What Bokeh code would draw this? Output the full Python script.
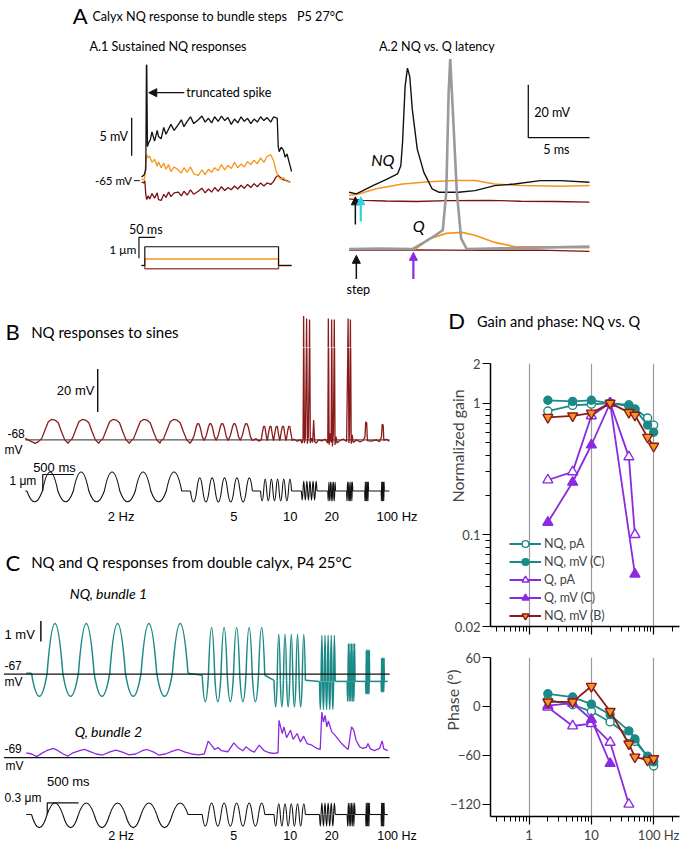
import math
from bokeh.plotting import figure
from bokeh.models import (Range1d, Label, Arrow, NormalHead, FixedTicker,
                          NumeralTickFormatter, CustomJSTickFormatter, Legend, LegendItem)
from bokeh.layouts import column, row
from bokeh.embed import file_html
from bokeh.resources import INLINE

# ======================= DATA =======================
# ---- A.1 sustained NQ responses (time ms, membrane potential mV) ----
a1_t_black = [-10, -3, 0, 3, 5, 6, 8, 12, 17, 22, 30, 38, 42, 50, 58, 65, 73, 80, 90, 103,
              112, 120, 130, 140, 150, 164, 175, 185, 195, 205, 214, 225, 235, 245, 255, 265,
              275, 285, 295, 305, 315, 325, 335, 345, 355, 365, 375, 386, 395, 406, 409, 412,
              418, 425, 430, 436, 442, 450]
a1_v_black = [-64.5, -64.3, -64.0, -63.5, -49.8, -49.8, -60.5, -60.0, -59.6, -58.6, -59.8, -58.4,
              -59.2, -59.5, -58.0, -58.9, -58.2, -57.6, -58.4, -57.6, -57.0, -57.9, -57.2, -56.6,
              -57.5, -57.0, -56.5, -57.3, -56.8, -57.4, -56.6, -57.2, -56.5, -57.1, -56.7, -57.6,
              -56.9, -57.4, -56.6, -57.2, -56.8, -57.5, -56.9, -57.3, -56.6, -57.1, -56.7, -57.3,
              -56.6, -56.8, -60.5, -61.2, -60.6, -61.0, -61.9, -61.5, -62.5, -63.8]
a1_t = [-10, -3, 0, 3, 6, 10, 15, 22, 30, 38, 42, 50, 58, 65, 73, 80, 90, 103, 112, 120,
        130, 140, 150, 164, 175, 185, 195, 205, 214, 225, 235, 245, 255, 265, 275, 285, 295,
        305, 315, 325, 335, 345, 355, 365, 375, 386, 395, 401, 408, 416, 425, 435, 446]
a1_v_orange = [-64.8, -64.9, -64.6, -62.5, -61.6, -62.0, -61.8, -62.6, -62.2, -63.1, -62.5, -63.3,
               -62.7, -63.5, -62.9, -63.8, -63.2, -63.6, -64.0, -63.3, -63.9, -63.2, -64.1, -64.3,
               -63.6, -64.2, -63.5, -63.9, -63.3, -63.7, -62.9, -63.6, -63.0, -63.4, -62.6, -63.3,
               -62.8, -63.2, -62.5, -62.9, -62.3, -62.8, -62.0, -62.6, -61.8, -61.6, -62.4, -63.5,
               -64.4, -64.8, -64.6, -65.1, -65.2]
a1_v_red = [-65.2, -65.3, -65.0, -66.8, -67.5, -67.0, -67.4, -66.7, -67.3, -66.6, -67.5, -67.6,
            -66.8, -67.2, -66.5, -67.1, -66.6, -66.5, -67.0, -66.4, -66.9, -66.2, -66.8, -66.4,
            -66.0, -66.6, -66.1, -66.5, -65.9, -66.4, -65.8, -66.3, -65.9, -66.2, -65.7, -66.1,
            -65.6, -66.0, -65.5, -65.9, -65.4, -65.8, -65.3, -65.7, -65.3, -65.5, -65.1, -64.6,
            -64.3, -64.6, -64.9, -65.0, -65.2]
a1_step_t = [-10, 0, 0, 410, 410, 450]          # ms
a1_step_black = [0, 0, 0.9, 0.9, 0, 0]           # um
a1_step_orange = [0, 0, 0.31, 0.31, 0, 0]
a1_step_red = [0, 0, -0.16, -0.16, 0, 0]

# ---- A.2 NQ vs Q latency (time ms, mV re. rest) ----
a2_t_black = [-0.51, 0.08, 0.62, 1.43, 2.5, 3.44, 3.71, 3.85, 4.06, 4.25, 4.44, 4.65, 5.05,
              5.59, 6.26, 6.8, 8.41, 9.76, 11.37, 12.98, 15.1, 16.75, 19.1]
a2_v_black = [0.6, 0.0, 1.2, 3.1, 5.4, 7.5, 10.6, 19.4, 40.6, 47.5, 44.3, 31.8, 16.9, 8.1, 1.9,
              0.6, 0.6, 1.2, 3.1, 3.7, 5.0, 5.0, 4.4]
a2_t_orange_nq = [-0.51, 0.35, 1.69, 3.85, 5.99, 8.15, 9.76, 11.37, 13.52, 16.75, 19.11]
a2_v_orange_nq = [-0.6, 0.0, 1.9, 3.7, 4.6, 5.0, 5.0, 3.7, 3.1, 2.9, 3.1]
a2_t_red_nq = [-0.51, 0.62, 2.5, 5.0, 7.5, 10.9, 13.5, 16.3, 19.1]
a2_v_red_nq = [-1.9, -2.5, -2.7, -2.9, -2.6, -2.5, -2.8, -2.9, -3.1]
a2_t_gray_q = [-0.51, 2.0, 4.65, 5.46, 6.53, 7.13, 7.42, 7.61, 7.74, 7.88, 8.28, 8.63, 9.09,
               11.91, 19.1]
a2_v_gray_q = [0.0, 0.2, 0.0, 2.1, 5.2, 7.1, 21.5, 59.0, 71.8, 59.0, 21.5, 4.0, 0.0, 0.25, 0.9]
a2_t_orange_q = [-0.51, 4.9, 5.99, 7.4, 8.7, 9.76, 11.37, 12.98, 19.1]
a2_v_orange_q = [0.0, 0.0, 3.8, 5.9, 6.3, 5.2, 2.5, 0.9, 0.5]
a2_t_red_q = [-0.51, 5.0, 10.0, 15.0, 19.1]
a2_v_red_q = [-0.4, -0.3, -0.5, -0.4, -0.9]

# ---- B NQ responses to sines (time s, mV) ----
b_pre_t = [-0.027, 0.053, 0.133]
b_pre_v = [-67.3, -68.5, -69.6]
b2_peak_t = [0.426, 0.920, 1.415, 1.910, 2.394]
b2_shape_dt = [-0.239, -0.186, -0.133, -0.080, -0.027, 0.027, 0.080, 0.133, 0.186, 0.239]
b2_shape_v = [-68.8, -67.3, -63.4, -59.6, -58.5, -58.8, -60.0, -64.2, -68.0, -69.6]
b5_peak_t = [2.766, 2.963, 3.154, 3.351, 3.543]
b5_shape_dt = [-0.096, -0.064, -0.032, -0.011, 0.011, 0.032, 0.064, 0.096]
b5_shape_v = [-68.0, -65.7, -61.9, -60.4, -60.6, -62.2, -66.5, -68.3]
b_gap_t = [3.70, 3.74]
b_gap_v = [-67.4, -68.6]
b10_peak_t = [3.830, 3.931, 4.032, 4.133, 4.234]
b10_shape_dt = [-0.048, -0.027, -0.011, 0.0, 0.011, 0.027, 0.048]
b10_shape_v = [-68.0, -64.2, -61.9, -61.6, -61.9, -65.0, -68.3]
b_late_t = [4.309, 4.362, 4.415, 4.441, 4.457, 4.468, 4.479, 4.495, 4.516, 4.527, 4.543, 4.564,
            4.574, 4.596, 4.612, 4.628, 4.644, 4.670, 4.707, 4.761, 4.814, 4.856, 4.867, 4.878,
            4.894, 4.910, 4.920, 4.931, 4.947, 4.963, 4.973, 4.989, 5.005, 5.053, 5.106, 5.160,
            5.186, 5.197, 5.207, 5.223, 5.234, 5.250, 5.266, 5.319, 5.372, 5.426, 5.457, 5.468,
            5.484, 5.495, 5.559, 5.638, 5.691, 5.723, 5.734, 5.750, 5.761, 5.798, 5.851]
b_late_v = [-67.7, -68.6, -68.0, -69.5, -67.2, -10.4, -69.5, -66.5, -11.5, -69.8, -66.2, -12.0,
            -69.5, -67.2, -69.2, -58.8, -68.8, -69.5, -68.0, -68.5, -67.7, -69.5, -11.5, -70.3,
            -64.9, -69.2, -12.0, -71.1, -64.9, -12.0, -70.3, -66.5, -69.5, -68.3, -67.7, -68.8,
            -11.5, -69.5, -64.9, -12.0, -69.8, -65.7, -69.2, -68.0, -68.9, -68.3, -66.5, -59.6,
            -60.1, -68.3, -68.6, -68.0, -68.9, -66.5, -60.8, -61.1, -68.3, -67.7, -68.6]
b_rest_mv = -68
b_span = [-0.027, 5.851]
b_stim_t0 = [0.0, 2.64, 3.771, 4.431, 4.856, 5.160, 5.452, 5.718]   # s
b_stim_f = [2, 5, 10, 20, 40, 50, 80, 100]                          # Hz
b_stim_up = [1.15, 0.8, 0.72, 0.6, 0.55, 0.55, 0.55, 0.55]          # um
b_stim_dn = [-0.65, -0.66, -0.6, -0.55, -0.6, -0.6, -0.6, -0.6]     # um
n_cycles = 5

# ---- C double calyx (time s, mV / um) ----
c_span = [-0.084, 5.689]
c_seg_t0 = [0.0, 2.726, 3.874, 4.6, 5.042, 5.337, 5.584]
c_seg_f = [2, 5, 10, 20, 40, 80, 100]
c_stim_up = [0.3, 0.3, 0.28, 0.3, 0.3, 0.3, 0.3]
c_stim_dn = [-0.34, -0.3, -0.3, -0.3, -0.3, -0.3, -0.3]
c_nq_up = [2.42, 2.33, 2.25, 2.25, 1.85, 1.53, 1.13]
c_nq_dn = [-1.13, -1.29, -1.29, -1.37, -0.97, -0.6, -0.5]
c_nq_base = [-66.95, -67.05, -67.3, -67.35, -67.35, -67.35, -67.35]
c_nq_rest = -67
c_q_rest = -69
c_q_t = [-0.084, 0.005, 0.084, 0.163, 0.242, 0.347, 0.426, 0.505, 0.584, 0.663, 0.768, 0.847,
         0.926, 1.032, 1.137, 1.242, 1.347, 1.453, 1.558, 1.663, 1.768, 1.847, 1.953, 2.032,
         2.137, 2.242, 2.347, 2.453, 2.558, 2.663, 2.758, 2.795, 2.821, 2.874, 2.926, 2.979,
         3.032, 3.137, 3.232, 3.295, 3.374, 3.426, 3.505, 3.558, 3.637, 3.716, 3.795, 3.874,
         3.937, 3.953, 3.979, 4.005, 4.032, 4.074, 4.137, 4.179, 4.242, 4.295, 4.347, 4.4,
         4.479, 4.558, 4.611, 4.637, 4.663, 4.689, 4.716, 4.742, 4.795, 4.847, 4.9, 4.953,
         5.005, 5.058, 5.111, 5.147, 5.184, 5.242, 5.295, 5.347, 5.374, 5.411, 5.479, 5.558,
         5.6, 5.626, 5.689]
c_q_v = [-68.76, -68.82, -68.95, -68.79, -68.66, -68.55, -68.66, -68.82, -68.92, -68.76, -68.66,
         -68.60, -68.69, -68.82, -68.87, -68.73, -68.63, -68.73, -68.86, -68.82, -68.66, -68.60,
         -68.73, -68.87, -68.82, -68.69, -68.60, -68.73, -68.82, -68.86, -68.82, -68.47, -68.19,
         -68.39, -68.60, -68.50, -68.66, -68.71, -68.28, -68.50, -68.66, -68.47, -68.66, -68.73,
         -68.39, -68.66, -68.76, -68.79, -68.76, -67.18, -67.50, -67.82, -67.50, -68.02, -67.66,
         -68.11, -67.82, -68.23, -67.95, -68.31, -68.39, -68.55, -68.60, -66.78, -67.26, -66.94,
         -67.50, -67.21, -67.74, -67.90, -68.11, -68.31, -68.47, -68.60, -67.50, -67.66, -68.15,
         -68.47, -68.55, -68.50, -68.31, -68.57, -68.66, -68.55, -68.18, -68.57, -68.66]

# ---- D gain and phase ----
freq_nq = [2, 5, 10, 20, 40, 50, 80, 100]
gain_nq_pa = [0.87, 0.96, 0.98, 1.0, 0.97, 0.9, 0.77, 0.68]
gain_nq_mvc = [1.05, 1.03, 1.05, 1.0, 0.95, 0.9, 0.68, 0.6]
gain_nq_mvb = [0.78, 0.8, 0.84, 1.0, 0.85, 0.81, 0.55, 0.47]
freq_q_pa = [2, 5, 10, 20, 40, 50]
gain_q_pa = [0.26, 0.30, 0.8, 1.0, 0.39, 0.1]
freq_q_mv = [2, 5, 10, 20, 50]
gain_q_mvc = [0.124, 0.25, 0.48, 1.0, 0.05]
phase_nq_pa = [8, 2, -6, -19, -36, -43, -61, -73]
phase_nq_mvc = [15.5, 11.5, 2.8, -10, -30, -40, -62, -68]
phase_nq_mvb = [5.6, 5.6, 24.7, -6, -46, -62, -66, -64]
pfreq_q_pa = [2, 5, 10, 20, 40]
phase_q_pa = [-1, -24, -21, -44, -120]
pfreq_q_mv = [2, 5, 10, 20]
phase_q_mvc = [1, 4, -16, -70]

# ======================= STYLE =======================
BLACK = "#111111"
ORANGE = "#f7941d"
DKRED = "#7a1214"
BRED = "#8b1a1a"
STEPRED = "#a0524d"
TEAL = "#1b8a86"
PURPLE = "#8a2be2"
CYAN = "#2ed3e3"
GRAY = "#9a9a9a"
FONT = "Lato"
AFONT = "Liberation Sans"
NB = "\u00a0"


def lin_range(p0, v0, p1, v1, fs, fe):
    k = (v1 - v0) / (p1 - p0)
    return Range1d(start=v0 + (fs - p0) * k, end=v0 + (fe - p0) * k)


def canvas(w, h, xr, yr):
    p = figure(width=w, height=h, x_range=Range1d(*xr), y_range=Range1d(*yr),
               x_axis_location=None, y_axis_location=None, toolbar_location=None,
               output_backend="svg", min_border=0)
    p.grid.visible = False
    p.outline_line_color = None
    return p


def txt(p, x, y, s, size=13, align="left", style="normal", font=FONT, color="black",
        angle=0.0):
    p.add_layout(Label(x=x, y=y, text=s, text_font=font, text_font_size=f"{size}px",
                       text_align=align, text_baseline="middle", text_font_style=style,
                       text_color=color, angle=angle))


def arch_data(t0s, freqs, ups, dns, bases):
    d = dict(x0=[], y0=[], x1=[], y1=[], cx=[], cy=[])
    for t0, f, u, dn, b in zip(t0s, freqs, ups, dns, bases):
        h = 0.5 / f
        for k in range(2 * n_cycles):
            a = t0 + k * h
            amp = dn if k % 2 == 0 else u
            d["x0"].append(a); d["x1"].append(a + h); d["cx"].append(a + h / 2)
            d["y0"].append(b); d["y1"].append(b); d["cy"].append(b + 2 * amp)
    return d


def flat_data(t0s, freqs, bases, span):
    xs, ys = [], []
    pt, pb = span[0], bases[0]
    for t0, f, b in zip(t0s, freqs, bases):
        xs.append([pt, t0]); ys.append([pb, b])
        pt, pb = t0 + n_cycles / f, b
    xs.append([pt, span[1]]); ys.append([pb, pb])
    return xs, ys


# B response trace assembled from read shapes and peak times
b_t, b_v = list(b_pre_t), list(b_pre_v)
for tp in b2_peak_t:
    for dt, v in zip(b2_shape_dt, b2_shape_v):
        b_t.append(tp + dt); b_v.append(v)
for tp in b5_peak_t:
    for dt, v in zip(b5_shape_dt, b5_shape_v):
        b_t.append(tp + dt); b_v.append(v)
b_t += b_gap_t; b_v += b_gap_v
for tp in b10_peak_t:
    for dt, v in zip(b10_shape_dt, b10_shape_v):
        b_t.append(tp + dt); b_v.append(v)
b_t += b_late_t; b_v += b_late_v

SPLIT = 350   # boundary (reference px) between the upper and lower canvases

# ======================= PANEL A (+ titles of B and D) =======================
top = canvas(684, 347, (0, 692), (SPLIT, 0))
top.extra_x_ranges = {
    "a1x": lin_range(146, 0, 162.5, 50, 0, 692),
    "a2x": lin_range(359, 0, 421, 5, 0, 692),
    "bx": lin_range(26.67, 0, 89.34, 1, 0, 692),
}
top.extra_y_ranges = {
    "a1y": lin_range(181.7, -65, 143.35, -60, SPLIT, 0),
    "a1s": lin_range(267.3, 0, 246.3, 1, SPLIT, 0),
    "a2n": lin_range(195, 0, 141.6, 20, SPLIT, 0),
    "a2q": lin_range(250.7, 0, 197.3, 20, SPLIT, 0),
    "bv": lin_range(443.3, -68, 399.9, -48, SPLIT, 0),
}
A1 = dict(x_range_name="a1x", y_range_name="a1y")
top.line(a1_t, a1_v_red, line_color=DKRED, line_width=1.3, **A1)
top.line(a1_t, a1_v_orange, line_color=ORANGE, line_width=1.3, **A1)
top.line(a1_t_black, a1_v_black, line_color=BLACK, line_width=1.3, **A1)
top.line([-40.3, -40.3], [-61.74, -56.74], line_color=BLACK, line_width=1.3, **A1)
S1 = dict(x_range_name="a1x", y_range_name="a1s")
top.line(a1_step_t, a1_step_red, line_color=STEPRED, line_width=1.5, **S1)
top.line(a1_step_t, a1_step_orange, line_color=ORANGE, line_width=1.5, **S1)
top.line(a1_step_t, a1_step_black, line_color=BLACK, line_width=1.2, **S1)
top.line([-18, -18, 32], [0.35, 1.35, 1.35], line_color=BLACK, line_width=1.2, **S1)
top.line([135, 141], [181.7, 181.7], line_color=BLACK, line_width=1.0)

A2N = dict(x_range_name="a2x", y_range_name="a2n")
A2Q = dict(x_range_name="a2x", y_range_name="a2q")
top.line(a2_t_red_nq, a2_v_red_nq, line_color=DKRED, line_width=1.3, **A2N)
top.line(a2_t_orange_nq, a2_v_orange_nq, line_color=ORANGE, line_width=1.5, **A2N)
top.line(a2_t_black, a2_v_black, line_color=BLACK, line_width=1.4, **A2N)
top.line(a2_t_red_q, a2_v_red_q, line_color=DKRED, line_width=1.3, **A2Q)
top.line(a2_t_orange_q, a2_v_orange_q, line_color=ORANGE, line_width=1.7, **A2Q)
top.line(a2_t_gray_q, a2_v_gray_q, line_color=GRAY, line_width=2.6, **A2Q)
top.line([14.11, 14.11, 19.11], [41.2, 21.2, 21.2], line_color=BLACK, line_width=1.3, **A2N)

# upper part of the B spikes (the lower canvas draws the rest of the same trace)
top.line(b_t, b_v, line_color=BRED, line_width=1.3, x_range_name="bx", y_range_name="bv")

for (xs, ys, xe, ye, c, w) in [(186, 93, 150, 93, BLACK, 1.2),
                               (359, 226, 359, 198, BLACK, 1.5),
                               (364.5, 223, 364.5, 198, CYAN, 2.2),
                               (360, 281, 360, 257, BLACK, 1.5),
                               (417.7, 281, 417.7, 254, PURPLE, 2.2)]:
    top.add_layout(Arrow(end=NormalHead(size=8, fill_color=c, line_color=c),
                         x_start=xs, y_start=ys, x_end=xe, y_end=ye,
                         line_color=c, line_width=w))

txt(top, 73, 15, "A", 22)
txt(top, 93, 16, "Calyx NQ response to bundle steps", 12.6)
txt(top, 300, 16, "P5 27°C", 12.6)
txt(top, 90, 46, "A.1 Sustained NQ responses", 12.6)
txt(top, 383, 46, "A.2  NQ vs. Q latency", 12.6)
txt(top, 188, 93, "truncated spike", 12.6)
txt(top, 129, 137, "5 mV", 12.6, align="right")
txt(top, 133, 182, "-65 mV", 11.5, align="right")
txt(top, 130, 231, "50 ms", 12.6)
txt(top, 110, 251, "1 μm", 12)
txt(top, 540, 113, "20 mV", 12.6)
txt(top, 549, 150, "5 ms", 12.6)
txt(top, 375, 160, "NQ", 16, style="italic")
txt(top, 417, 227, "Q", 16, style="italic")
txt(top, 362, 292, "step", 12.6, align="center")
txt(top, 5, 334, "B", 22)
txt(top, 31, 334, "NQ responses  to sines", 15)
txt(top, 453, 323, "D", 22)
txt(top, 482, 324, "Gain and phase: NQ vs. Q", 14.5)

# ======================= PANELS B and C =======================
left = canvas(440, 498, (0, 445), (853, SPLIT))
left.extra_x_ranges = {
    "bx": lin_range(26.67, 0, 89.34, 1, 0, 445),
    "cx": lin_range(31.33, 0, 94.66, 1, 0, 445),
}
left.extra_y_ranges = {
    "bv": lin_range(443.3, -68, 399.9, -48, 853, SPLIT),
    "bs": lin_range(495, 0, 478.3, 1, 853, SPLIT),
    "cn": lin_range(680, -67, 659.3, -66, 853, SPLIT),
    "cq": lin_range(764.3, -69, 743.6, -68, 853, SPLIT),
    "cs": lin_range(821.7, 0, 810, 0.3, 853, SPLIT),
}

BV = dict(x_range_name="bx", y_range_name="bv")
left.line(b_span, [b_rest_mv, b_rest_mv], line_color="#555555", line_width=1.1, **BV)
left.line(b_t, b_v, line_color=BRED, line_width=1.3, **BV)
left.line([1.143, 1.143], [-55.0, -35.0], line_color=BLACK, line_width=1.4, **BV)

BS = dict(x_range_name="bx", y_range_name="bs")
zeros_b = [0.0] * len(b_stim_t0)
left.quadratic(line_color=BLACK, line_width=1.1,
               **arch_data(b_stim_t0, b_stim_f, b_stim_up, b_stim_dn, zeros_b), **BS)
fx, fy = flat_data(b_stim_t0, b_stim_f, zeros_b, b_span)
left.multi_line(fx, fy, line_color=BLACK, line_width=1.1, **BS)
left.line([0.256, 0.256, 0.756], [0, 1, 1], line_color=BLACK, line_width=1.2, **BS)

txt(left, 95, 393, "20 mV", 13, align="right", font=AFONT)
txt(left, 7, 437, "-68", 12, font=AFONT)
txt(left, 4, 454, "mV", 12, font=AFONT)
txt(left, 33, 471, "500 ms", 13, font=AFONT)
txt(left, 9, 485, "1 μm", 12, font=AFONT)
for s, x in [("2 Hz", 122), ("5", 236), ("10", 293), ("20", 335), ("100 Hz", 401)]:
    txt(left, x, 521, s, 13, align="center", font=AFONT)
    txt(left, x, 843, s, 12.5, align="center", font=AFONT)

# C traces
CN = dict(x_range_name="cx", y_range_name="cn")
left.quadratic(line_color=TEAL, line_width=1.5,
               **arch_data(c_seg_t0, c_seg_f, c_nq_up, c_nq_dn, c_nq_base), **CN)
fx, fy = flat_data(c_seg_t0, c_seg_f, c_nq_base, c_span)
left.multi_line(fx, fy, line_color=TEAL, line_width=1.5, **CN)
left.line([-0.44, 5.72], [c_nq_rest, c_nq_rest], line_color=BLACK, line_width=1.2, **CN)
left.line([0.15, 0.15], [-64.4, -65.4], line_color=BLACK, line_width=1.5, **CN)

CQ = dict(x_range_name="cx", y_range_name="cq")
left.line([-0.44, 5.72], [c_q_rest, c_q_rest], line_color=BLACK, line_width=1.2, **CQ)
left.line(c_q_t, c_q_v, line_color=PURPLE, line_width=1.3, **CQ)

CS = dict(x_range_name="cx", y_range_name="cs")
zeros_c = [0.0] * len(c_seg_t0)
left.quadratic(line_color=BLACK, line_width=1.1,
               **arch_data(c_seg_t0, c_seg_f, c_stim_up, c_stim_dn, zeros_c), **CS)
fx, fy = flat_data(c_seg_t0, c_seg_f, zeros_c, c_span)
left.multi_line(fx, fy, line_color=BLACK, line_width=1.1, **CS)
left.line([0.252, 0.252, 0.752], [0, 0.3, 0.3], line_color=BLACK, line_width=1.2, **CS)

txt(left, 5, 567, "C", 22)
txt(left, 31, 567, "NQ and Q responses from double calyx, P4 25°C", 15)
txt(left, 70, 598, "NQ, bundle 1", 14, style="italic")
txt(left, 4, 640, "1 mV", 13, font=AFONT)
txt(left, 4, 671, "-67", 12, font=AFONT)
txt(left, 4, 688, "mV", 12, font=AFONT)
txt(left, 75, 738, "Q, bundle 2", 14, style="italic")
txt(left, 4, 755, "-69", 12, font=AFONT)
txt(left, 5, 773, "mV", 12, font=AFONT)
txt(left, 47, 788, "500 ms", 13, font=AFONT)
txt(left, 4, 805, "0.3 μm", 12, font=AFONT)

# ======================= PANEL D =======================
minor_x = [0.3, 0.4, 0.5, 0.6, 0.7, 0.8, 0.9, 2, 3, 4, 5, 6, 7, 8, 9,
           20, 30, 40, 50, 60, 70, 80, 90, 200]


def style_d(p):
    for ax in p.axis:
        ax.axis_line_width = 1.5
        ax.axis_line_color = "black"
        ax.major_tick_line_width = 1.2
        ax.minor_tick_line_width = 1.0
        ax.major_tick_in = 0
        ax.major_tick_out = 8
        ax.minor_tick_in = 0
        ax.minor_tick_out = 5
        ax.major_label_text_font = FONT
        ax.major_label_text_font_size = "13px"
        ax.major_label_standoff = 2
        ax.axis_label_text_font = FONT
        ax.axis_label_text_font_size = "16px"
        ax.axis_label_text_font_style = "normal"
    p.outline_line_color = None
    p.ygrid.visible = False
    p.xaxis.ticker = FixedTicker(ticks=[1, 10, 100], minor_ticks=minor_x)
    p.xgrid.ticker = FixedTicker(ticks=[1, 10, 100])
    p.xgrid.grid_line_color = "#9a9a9a"
    p.xgrid.grid_line_width = 1.2


gain = figure(width=244, height=295, x_axis_type="log", y_axis_type="log",
              x_range=Range1d(0.24, 260), y_range=Range1d(0.02, 2),
              toolbar_location=None, output_backend="svg",
              min_border_left=40, min_border_right=5, min_border_top=16, min_border_bottom=16)
style_d(gain)
gain.xaxis.major_label_text_font_size = "2px"
gain.xaxis.major_label_text_color = None
gain.xaxis.major_label_standoff = 0
gain.yaxis.ticker = FixedTicker(ticks=[0.02, 0.1, 1, 2],
                                minor_ticks=[0.03, 0.04, 0.05, 0.06, 0.07, 0.08, 0.09,
                                             0.2, 0.3, 0.4, 0.5, 0.6, 0.7, 0.8, 0.9])
gain.yaxis.formatter = NumeralTickFormatter(format="0.[00]")
gain.yaxis.axis_label = NB * 24 + "Normalized gain"
gain.yaxis.axis_label_standoff = -15

series = [
    ("NQ, pA", freq_nq, gain_nq_pa, TEAL, "circle", "white", TEAL, 8),
    ("NQ, mV (C)", freq_nq, gain_nq_mvc, TEAL, "circle", TEAL, TEAL, 8),
    ("Q, pA", freq_q_pa, gain_q_pa, PURPLE, "triangle", "white", PURPLE, 10),
    ("Q, mV (C)", freq_q_mv, gain_q_mvc, PURPLE, "triangle", PURPLE, PURPLE, 10),
    ("NQ, mV (B)", freq_nq, gain_nq_mvb, BRED, "inverted_triangle", ORANGE, BRED, 10),
]
items = []
for lab, xs, ys, lc, mk, fc, mc, sz in series:
    lr = gain.line(xs, ys, line_color=lc, line_width=1.8)
    sr = gain.scatter(xs, ys, marker=mk, size=sz, fill_color=fc, line_color=mc, line_width=1.4)
    items.append(LegendItem(label=lab, renderers=[lr, sr]))
legend = Legend(items=items, location=(19, 2), background_fill_alpha=0,
                border_line_color=None, padding=0, margin=0, spacing=1,
                glyph_width=32, glyph_height=17, label_height=17, label_standoff=3,
                label_text_font=FONT, label_text_font_size="12.5px")
gain.add_layout(legend)

phase = figure(width=244, height=203, x_axis_type="log",
               x_range=Range1d(0.24, 260), y_range=Range1d(-135, 60),
               toolbar_location=None, output_backend="svg",
               min_border_left=40, min_border_right=5, min_border_top=15, min_border_bottom=26)
style_d(phase)
phase.xaxis.formatter = CustomJSTickFormatter(
    code="const v = Math.round(tick); return v >= 100 ? '\u00a0\u00a0\u00a0100 Hz' : String(v);")
phase.yaxis.ticker = FixedTicker(ticks=[-120, -60, 0, 60])
phase.yaxis.axis_label = NB * 18 + "Phase (°)"
phase.yaxis.axis_label_standoff = -15

pseries = [
    (freq_nq, phase_nq_pa, TEAL, "circle", "white", TEAL, 8),
    (freq_nq, phase_nq_mvc, TEAL, "circle", TEAL, TEAL, 8),
    (pfreq_q_pa, phase_q_pa, PURPLE, "triangle", "white", PURPLE, 10),
    (pfreq_q_mv, phase_q_mvc, PURPLE, "triangle", PURPLE, PURPLE, 10),
    (freq_nq, phase_nq_mvb, BRED, "inverted_triangle", ORANGE, BRED, 10),
]
for xs, ys, lc, mk, fc, mc, sz in pseries:
    phase.line(xs, ys, line_color=lc, line_width=1.8)
    phase.scatter(xs, ys, marker=mk, size=sz, fill_color=fc, line_color=mc, line_width=1.4)

layout = column(top, row(left, column(gain, phase)))
open("out.html", "w").write(file_html(layout, INLINE))
